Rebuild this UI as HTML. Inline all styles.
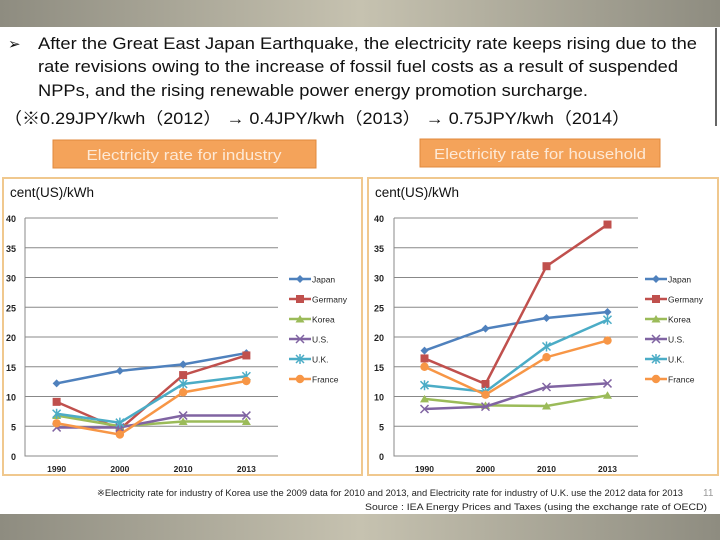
<!DOCTYPE html>
<html><head><meta charset="utf-8">
<style>
html,body{margin:0;padding:0;background:#fff;}
svg{display:block;font-family:"Liberation Sans",sans-serif;}
</style></head>
<body>
<svg id="slide" width="720" height="540" viewBox="0 0 720 540" xmlns="http://www.w3.org/2000/svg">
<defs>
<linearGradient id="band" x1="0" x2="1" y1="0" y2="0">
<stop offset="0" stop-color="#8e8c80"/><stop offset="0.5" stop-color="#c6c2b0"/><stop offset="1" stop-color="#8e8c80"/>
</linearGradient>
</defs>
<rect x="0" y="0" width="720" height="27" fill="url(#band)"/>
<rect x="0" y="514" width="720" height="26" fill="url(#band)"/>
<g font-size="16.5" fill="#111">
<line x1="716" y1="28" x2="716" y2="126" stroke="#333" stroke-width="1.5"/>
<text x="8" y="49" font-size="15">➢</text>
<text x="38" y="49" textLength="659" lengthAdjust="spacingAndGlyphs">After the Great East Japan Earthquake, the electricity rate keeps rising due to the</text>
<text x="38" y="72" textLength="640" lengthAdjust="spacingAndGlyphs">rate revisions owing to the increase of fossil fuel costs as a result of suspended</text>
<text x="38" y="96" textLength="550" lengthAdjust="spacingAndGlyphs">NPPs, and the rising renewable power energy promotion surcharge.</text>
<text x="4" y="124" font-family="'Liberation Sans','Noto Sans CJK JP',sans-serif" textLength="626" lengthAdjust="spacingAndGlyphs">（※0.29JPY/kwh（2012）  →  0.4JPY/kwh（2013）  →  0.75JPY/kwh（2014）</text>
</g>
<g>
<rect x="53" y="140" width="263" height="28" fill="#f4a35a" stroke="#e08a3c"/>
<text x="184" y="160" text-anchor="middle" font-size="15" fill="#fde9d6" textLength="195" lengthAdjust="spacingAndGlyphs">Electricity rate for industry</text>
</g>
<g>
<rect x="420" y="139" width="240" height="28" fill="#f4a35a" stroke="#e08a3c"/>
<text x="540" y="159" text-anchor="middle" font-size="15" fill="#fde9d6" textLength="212" lengthAdjust="spacingAndGlyphs">Electricity rate for household</text>
</g>
<g id="charts"></g>
<g font-size="9" fill="#222">
<text x="97" y="496" textLength="586" lengthAdjust="spacingAndGlyphs">※Electricity rate for industry of Korea use the 2009 data for 2010 and 2013, and Electricity rate for industry of U.K. use the 2012 data for 2013</text>
<text x="365" y="510" textLength="342" lengthAdjust="spacingAndGlyphs">Source : IEA Energy Prices and Taxes (using the exchange rate of OECD)</text>
<text x="703" y="496" fill="#999" font-size="10">11</text>
</g>
</svg>
<script>
const categories = ["1990","2000","2010","2013"];
const seriesNames = ["Japan","Germany","Korea","U.S.","U.K.","France"];
const yTicks = [0,5,10,15,20,25,30,35,40];
const industryJapan = [12.2,14.3,15.4,17.3];
const industryGermany = [9.1,4.5,13.6,16.9];
const industryKorea = [6.8,5.0,5.8,5.8];
const industryUS = [4.8,4.8,6.8,6.8];
const industryUK = [7.1,5.6,12.1,13.4];
const industryFrance = [5.5,3.6,10.7,12.6];
const householdJapan = [17.7,21.4,23.2,24.2];
const householdGermany = [16.4,12.1,31.9,38.9];
const householdKorea = [9.6,8.5,8.4,10.2];
const householdUS = [7.9,8.3,11.6,12.2];
const householdUK = [11.9,10.8,18.4,22.9];
const householdFrance = [15.0,10.3,16.6,19.4];

const colors = ["#4F81BD","#C0504D","#9BBB59","#8064A2","#4BACC6","#F79646"];
const markers = ["diamond","square","triangle","x","star","circle"];
const NS = "http://www.w3.org/2000/svg";
function mk(tag, attrs, parent){const e=document.createElementNS(NS,tag);for(const k in attrs)e.setAttribute(k,attrs[k]);parent.appendChild(e);return e;}

function marker(g,type,x,y,c){
  let e;
  if(type==="diamond") e=mk("polygon",{points:`${x},${y-4} ${x+4},${y} ${x},${y+4} ${x-4},${y}`,fill:c},g);
  else if(type==="square") e=mk("rect",{x:x-4,y:y-4,width:8,height:8,fill:c},g);
  else if(type==="triangle") e=mk("polygon",{points:`${x},${y-4} ${x+4.5},${y+3.5} ${x-4.5},${y+3.5}`,fill:c},g);
  else if(type==="circle") e=mk("circle",{cx:x,cy:y,r:4.2,fill:c},g);
  else if(type==="x") e=mk("path",{d:`M${x-4},${y-4}L${x+4},${y+4}M${x-4},${y+4}L${x+4},${y-4}`,stroke:c,"stroke-width":1.5,fill:"none"},g);
  else e=mk("path",{d:`M${x-4},${y-4}L${x+4},${y+4}M${x-4},${y+4}L${x+4},${y-4}M${x},${y-5}L${x},${y+5}`,stroke:c,"stroke-width":1.5,fill:"none"},g);
  
  
}

function chart(cfg){
  const root=document.getElementById("charts");
  const g=mk("g",{},root);
  
  
  mk("rect",{x:cfg.bx,y:178,width:cfg.bw,height:297,fill:"#fff",stroke:"#f0c88e","stroke-width":2},g);
  const t=mk("text",{x:cfg.bx+7,y:197,"font-size":13.5,fill:"#111"},g);
  t.textContent="cent(US)/kWh";
  
  
  const x0=cfg.px0,x1=cfg.px1,yTop=218,yBot=456;
  const yS=v=>yBot-(v/40)*(yBot-yTop);
  const band=(x1-x0)/categories.length;
  const xS=i=>x0+band*(i+0.5);
  yTicks.forEach(v=>{
    if(v>0){const l=mk("line",{x1:x0,x2:x1,y1:yS(v),y2:yS(v),stroke:"#888","stroke-width":1},g);
    
    }
    const tx=mk("text",{x:cfg.tickX,y:yS(v)+4,"font-size":9,"font-weight":"bold","text-anchor":"end",fill:"#222"},g);
    tx.textContent=v;
    
    
  });
  const ax=mk("path",{d:`M${x0},${yTop}L${x0},${yBot}L${x1},${yBot}`,stroke:"#888",fill:"none"},g);
  
  
  categories.forEach((c,i)=>{
    const tx=mk("text",{x:xS(i),y:yBot+16,"font-size":8.5,"font-weight":"bold","text-anchor":"middle",fill:"#222"},g);
    tx.textContent=c;
    
    
  });
  cfg.data.forEach((arr,s)=>{
    const sg=mk("g",{},g);
    
    
    mk("polyline",{points:arr.map((v,i)=>xS(i)+","+yS(v)).join(" "),fill:"none",stroke:colors[s],"stroke-width":2.5},sg);
    arr.forEach((v,i)=>marker(sg,markers[s],xS(i),yS(v),colors[s]));
    const ly=279+s*20;
    const lg=mk("g",{},g);
    
    
    mk("line",{x1:cfg.lx,x2:cfg.lx+22,y1:ly,y2:ly,stroke:colors[s],"stroke-width":2.5},lg);
    marker(lg,markers[s],cfg.lx+11,ly,colors[s]);
    const lt=mk("text",{x:cfg.lx+23,y:ly+3.5,"font-size":8.5,fill:"#222"},lg);
    lt.textContent=seriesNames[s];
  });
}
chart({name:"industry-chart",bx:3,bw:359,px0:25,px1:278,tickX:16,lx:289,
  data:[industryJapan,industryGermany,industryKorea,industryUS,industryUK,industryFrance]});
chart({name:"household-chart",bx:368,bw:350,px0:394,px1:638,tickX:384,lx:645,
  data:[householdJapan,householdGermany,householdKorea,householdUS,householdUK,householdFrance]});
</script>
</body></html>
